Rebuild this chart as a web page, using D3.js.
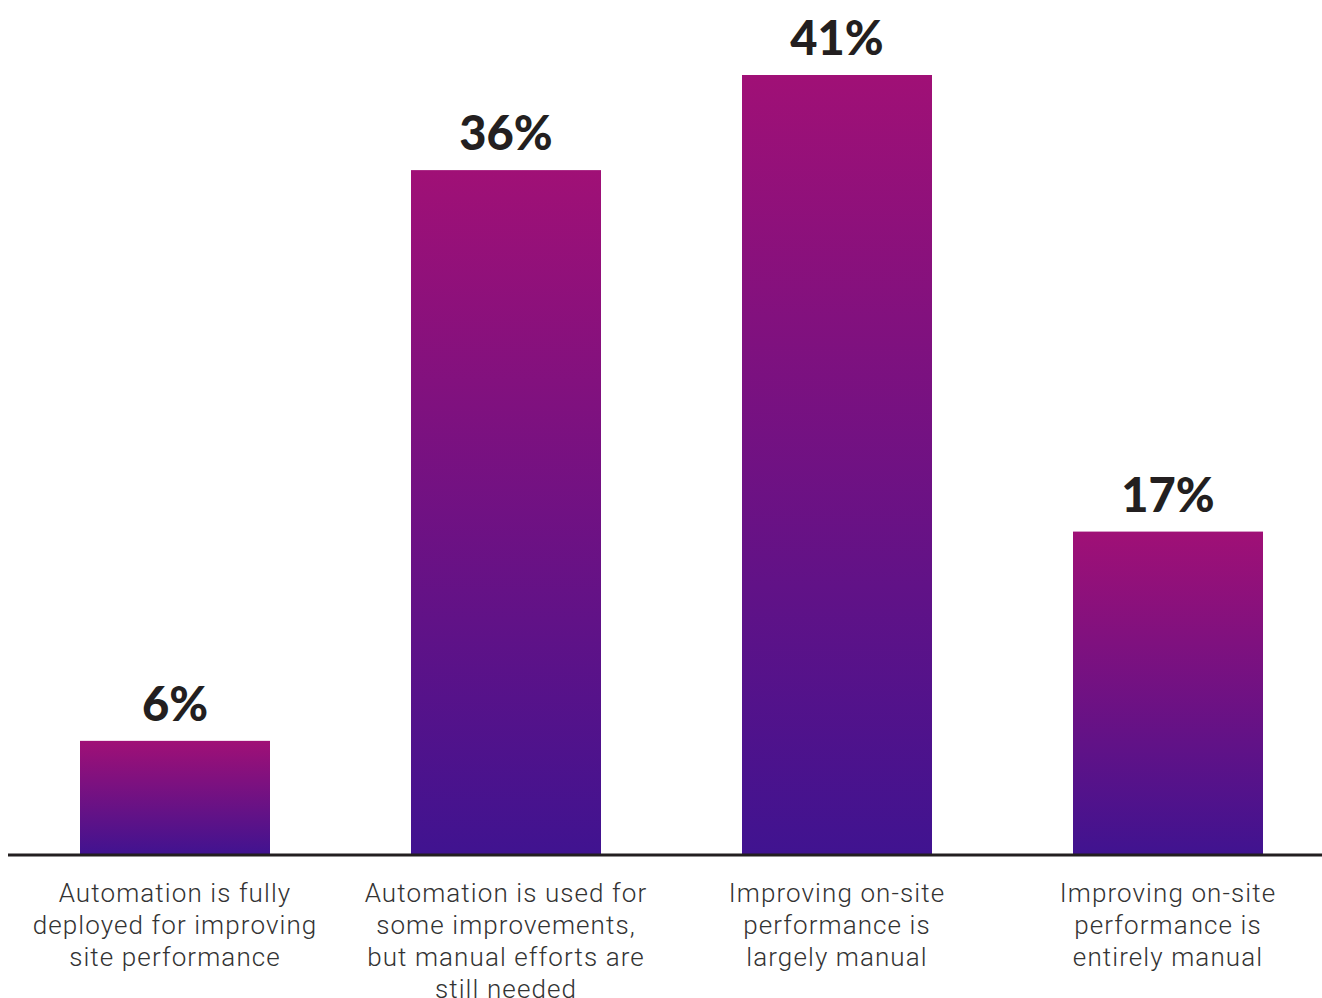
<!DOCTYPE html>
<html>
<head>
<meta charset="utf-8">
<script src="https://cdn.jsdelivr.net/npm/d3@7"></script>
<style>
  html, body { margin: 0; padding: 0; background: #fff; }
  svg { display: block; }
</style>
</head>
<body>
<svg id="chart" width="1322" height="998"></svg>
<script>
// Survey responses: how on-site performance improvements are carried out
const categories = [
  ["Automation is fully", "deployed for improving", "site performance"],
  ["Automation is used for", "some improvements,", "but manual efforts are", "still needed"],
  ["Improving on-site", "performance is", "largely manual"],
  ["Improving on-site", "performance is", "entirely manual"]
];
const values = [6, 36, 41, 17];
const valueLabels = ["6%", "36%", "41%", "17%"];

const svg = d3.select("#chart");
const baseY = 855;

const x = d3.scaleBand()
  .domain(d3.range(values.length))
  .range([9.5, 1333.5])
  .paddingInner(0.426)
  .paddingOuter(0.213);

const y = d3.scaleLinear()
  .domain([0, 41])
  .range([baseY, 75]);

// vertical magenta → indigo fill, applied per bar
const defs = svg.append("defs");
const grad = defs.append("linearGradient")
  .attr("id", "barFill")
  .attr("x1", 0).attr("y1", 0).attr("x2", 0).attr("y2", 1);
grad.append("stop").attr("offset", "0%").attr("stop-color", "#a01076");
grad.append("stop").attr("offset", "100%").attr("stop-color", "#401390");

svg.append("g")
  .selectAll("rect")
  .data(values)
  .join("rect")
  .attr("x", (d, i) => x(i))
  .attr("y", d => y(d))
  .attr("width", x.bandwidth())
  .attr("height", d => baseY - y(d))
  .attr("fill", "url(#barFill)");

// value labels above bars
svg.append("g")
  .selectAll("text")
  .data(values)
  .join("text")
  .attr("x", (d, i) => x(i) + x.bandwidth() / 2)
  .attr("y", d => y(d) - 20)
  .attr("text-anchor", "middle")
  .attr("font-family", "Lato, sans-serif")
  .attr("font-weight", 900)
  .attr("font-size", 47)
  .attr("fill", "#231f20")
  .text((d, i) => valueLabels[i]);

// baseline
const axis = d3.axisBottom(x).tickSize(0).tickFormat("");
const axisG = svg.append("g")
  .attr("transform", `translate(0,${baseY})`)
  .call(axis);
axisG.select(".domain").remove();
axisG.append("line")
  .attr("x1", 8).attr("x2", 1322)
  .attr("y1", 0).attr("y2", 0)
  .attr("stroke", "#231f20")
  .attr("stroke-width", 3);

// category labels
const lab = svg.append("g")
  .selectAll("text")
  .data(categories)
  .join("text")
  .attr("x", (d, i) => x(i) + x.bandwidth() / 2)
  .attr("y", 902)
  .attr("text-anchor", "middle")
  .attr("font-family", "Roboto, sans-serif")
  .attr("font-weight", 300)
  .attr("font-size", 26)
  .attr("letter-spacing", 1.1)
  .attr("fill", "#333333");
lab.selectAll("tspan")
  .data((d, i) => d.map(t => ({ t, i })))
  .join("tspan")
  .attr("x", d => x(d.i) + x.bandwidth() / 2)
  .attr("dy", (d, j) => j === 0 ? 0 : 32)
  .text(d => d.t);
</script>
</body>
</html>
